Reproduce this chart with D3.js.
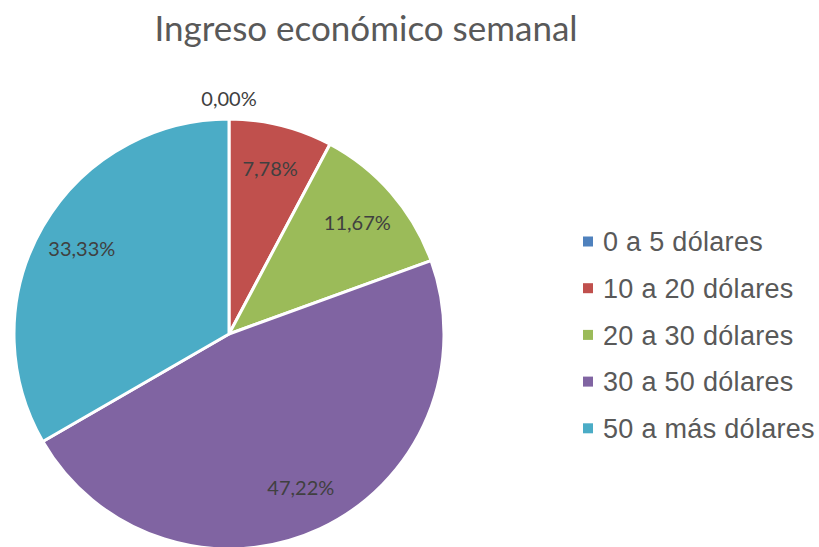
<!DOCTYPE html>
<html>
<head>
<meta charset="utf-8">
<script src="https://cdn.jsdelivr.net/npm/d3@7"></script>
<style>
  html, body { margin: 0; padding: 0; background: #fff; }
</style>
</head>
<body>
<div id="chart"></div>
<script>
// Chart data
const categorias = ['0 a 5 dólares', '10 a 20 dólares', '20 a 30 dólares', '30 a 50 dólares', '50 a más dólares'];
const porcentajes = [0.00, 7.78, 11.67, 47.22, 33.33];
const colores = ['#4F81BD', '#C0504D', '#9BBB59', '#8064A2', '#4BACC6'];
const titulo = 'Ingreso económico semanal';

const width = 819;
const height = 547;
const center = { x: 229, y: 334 };
const radius = 215;

const svg = d3.select('#chart')
  .append('svg')
  .attr('width', width)
  .attr('height', height);

// Title
svg.append('text')
  .attr('x', 366)
  .attr('y', 41)
  .attr('text-anchor', 'middle')
  .attr('fill', '#595959')
  .attr('font-family', 'Lato, sans-serif')
  .attr('font-size', 35)
  .text(titulo);

const data = categorias.map((c, i) => ({ categoria: c, valor: porcentajes[i], color: colores[i] }));

const pie = d3.pie()
  .sort(null)
  .value(d => d.valor);

const arc = d3.arc()
  .innerRadius(0)
  .outerRadius(radius);

const labelArc = d3.arc()
  .innerRadius(170)
  .outerRadius(170);

const outsideArc = d3.arc()
  .innerRadius(radius + 20)
  .outerRadius(radius + 20);

const g = svg.append('g')
  .attr('transform', `translate(${center.x}, ${center.y})`);

const arcs = pie(data);

// Slices
g.selectAll('path')
  .data(arcs.filter(d => d.data.valor > 0))
  .enter()
  .append('path')
  .attr('d', arc)
  .attr('fill', d => d.data.color)
  .attr('stroke', '#fff')
  .attr('stroke-width', 3)
  .attr('stroke-linejoin', 'round');

// Data labels
g.selectAll('text.data-label')
  .data(arcs)
  .enter()
  .append('text')
  .attr('class', 'data-label')
  .attr('transform', d => {
    const p = d.data.valor > 0 ? labelArc.centroid(d) : outsideArc.centroid(d);
    return `translate(${p[0]}, ${p[1]})`;
  })
  .attr('dy', '0.35em')
  .attr('text-anchor', 'middle')
  .attr('fill', '#404040')
  .attr('font-family', 'Lato, sans-serif')
  .attr('font-size', 20)
  .text(d => d.data.valor.toFixed(2).replace('.', ',') + '%');

// Legend
const legend = svg.append('g')
  .attr('transform', 'translate(583, 241.5)');

const legendRows = legend.selectAll('g')
  .data(data)
  .enter()
  .append('g')
  .attr('transform', (d, i) => `translate(0, ${i * 46.7})`);

legendRows.append('rect')
  .attr('x', 0)
  .attr('y', -5)
  .attr('width', 10)
  .attr('height', 10)
  .attr('fill', d => d.color);

legendRows.append('text')
  .attr('x', 20)
  .attr('y', 0)
  .attr('dy', '0.36em')
  .attr('fill', '#595959')
  .attr('font-family', 'Liberation Sans, Arial, sans-serif')
  .attr('font-size', 27)
  .attr('letter-spacing', 0.3)
  .text(d => d.categoria);
</script>
</body>
</html>
